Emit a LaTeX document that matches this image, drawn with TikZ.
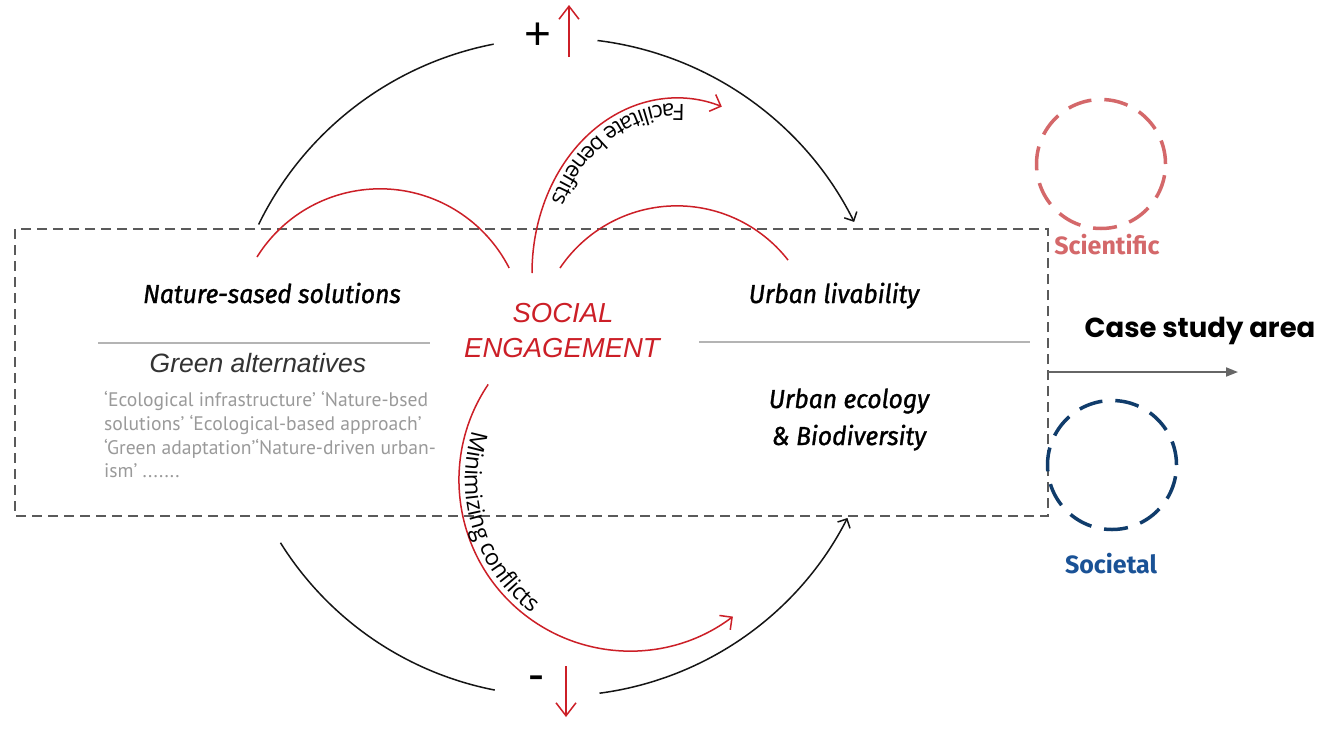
\documentclass[tikz,border=0pt]{standalone}
\usepackage{fontspec}
\usetikzlibrary{arrows.meta,decorations.text}
\setmainfont{Liberation Sans}
\newfontfamily\firac[FakeStretch=0.95,FakeBold=1.2]{Fira Sans}
\newfontfamily\firar{Fira Sans}
\newfontfamily\opens{Open Sans}
\newfontfamily\ptsans{PT Sans}
\newfontfamily\popp{Poppins}
\newfontfamily\libs{Liberation Sans}
\definecolor{lred}{HTML}{CC1F27}
\definecolor{sciRed}{HTML}{D4686A}
\definecolor{socBlue}{HTML}{103C6B}
\definecolor{socText}{HTML}{1A5296}
\definecolor{boxGray}{HTML}{5A5A5A}
\definecolor{divGray}{HTML}{B4B4B4}
\definecolor{paraGray}{HTML}{9A9A9A}
\definecolor{arcBlack}{HTML}{151515}
\definecolor{gaText}{HTML}{333333}
\tikzset{
  blackarc/.style={draw=arcBlack, line width=1.5pt},
  redarc/.style={draw=lred, line width=1.5pt},
  barbtip/.style={-{Straight Barb[length=7pt,width=14pt]}},
  redtip/.style={-{Straight Barb[length=9pt,width=18pt]}},
  vtip/.style={-{Straight Barb[length=13pt,width=20pt]}},
  casebox/.style={draw=boxGray, line width=1.8pt, dash pattern=on 10pt off 6pt},
  divider/.style={draw=divGray, line width=1.8pt},
  mainlabel/.style={font=\firac\itshape\fontsize{26}{26}\selectfont, text=black, inner sep=0pt, anchor=base},
  paraline/.style={font=\ptsans\fontsize{19.6}{19.6}\selectfont, text=paraGray, inner sep=0pt, anchor=base west},
  ringlabel/.style={font=\firar\bfseries\fontsize{25}{25}\selectfont, inner sep=0pt, anchor=base},
  ring/.style={circle, inner sep=0pt, minimum size=129pt, line width=3.5pt, dash pattern=on 24pt off 13pt},
  social/.style={font=\libs\itshape\fontsize{27.5}{27.5}\selectfont, text=lred, inner sep=0pt, anchor=base},
}
\begin{document}
\begin{tikzpicture}[x=1pt,y=1pt]
\useasboundingbox[fill=white] (0,0) rectangle (1325,-731);

% case study area box
\draw[casebox] (15,-229) rectangle (1048,-516);

% coordinates
\coordinate (tlA) at (258.6,-224.5);
\coordinate (trA) at (597.5,-40.5);
\coordinate (blA) at (280.5,-542.8);
\coordinate (brA) at (599.5,-693.2);
\coordinate (rlA) at (257,-257);
\coordinate (rrA) at (560,-268);
\coordinate (fbA) at (532,-273);
\coordinate (fbB) at (721.8,-106.6);
\coordinate (mcA) at (488.2,-384.4);
\coordinate (upA) at (569,-57);
\coordinate (upB) at (569,-5);
\coordinate (dnA) at (566,-666);
\coordinate (dnB) at (566,-717);
\coordinate (caseA) at (1048,-372);
\coordinate (caseB) at (1238,-372);
\coordinate (divLA) at (98,-343);
\coordinate (divLB) at (430,-343);
\coordinate (divRA) at (699,-342);
\coordinate (divRB) at (1030,-342);

% black outer loop
\draw[blackarc] (tlA) arc[start angle=154, end angle=101, radius=332pt];
\draw[blackarc, barbtip] (trA) arc[start angle=83, end angle=26.5, radius=332pt];
\draw[blackarc] (blA) arc[start angle=212, end angle=259, radius=326pt];
\draw[blackarc, barbtip] (brA) arc[start angle=277.5, end angle=333, radius=326pt];

% red arcs
\draw[redarc] (rlA) arc[start angle=148, end angle=27, radius=145pt];
\draw[redarc] (rrA) arc[start angle=146, end angle=38, radius=141pt];
\draw[redarc, redtip] (fbA) arc[start angle=180, end angle=72, x radius=145pt, y radius=175pt];
\draw[redarc, redtip] (mcA) arc[start angle=146, end angle=307, radius=171pt];

% curved labels
\path[decorate, decoration={text along path,
  text={|\opens\fontsize{22.5}{22.5}\selectfont|Facilitate benefits},
  text align={left indent=38pt}, raise=6pt}]
  (fbB) arc[start angle=72, end angle=180, x radius=145pt, y radius=175pt];
\path[decorate, decoration={text along path,
  text={|\opens\fontsize{23}{23}\selectfont|Minimizing conflicts},
  text align={left indent=50pt}, raise=6pt}]
  (mcA) arc[start angle=146, end angle=307, radius=171pt];

% plus / minus arrows
\draw[redarc, vtip] (upA) -- (upB);
\draw[redarc, vtip] (dnA) -- (dnB);
\node[font=\libs\fontsize{46}{46}\selectfont, inner sep=0pt] (plus) at (538,-36) {+};
\node[font=\libs\fontsize{48}{48}\selectfont, inner sep=0pt] (minus) at (536,-683) {-};

% dividers
\draw[divider] (divLA) -- (divLB);
\draw[divider] (divRA) -- (divRB);

% texts
\node[mainlabel] (nbs) at (272,-303) {Nature-sased solutions};
\node[mainlabel] (ul) at (834,-303) {Urban livability};
\node[mainlabel] (ue1) at (849,-408) {Urban ecology};
\node[mainlabel] (ue2) at (849,-445) {\& Biodiversity};
\node[social] (soc1) at (563,-322) {SOCIAL};
\node[social] (soc2) at (562,-357) {ENGAGEMENT};
\node[font=\libs\itshape\fontsize{26.5}{26.5}\selectfont, text=gaText, inner sep=0pt, anchor=base] (ga) at (258,-372) {Green alternatives};
\node[paraline] (p1) at (104,-406) {‘Ecological infrastructure’ ‘Nature-bsed};
\node[paraline] (p2) at (104,-430) {solutions’ ‘Ecological-based approach’};
\node[paraline] (p3) at (104,-454) {‘Green adaptation’‘Nature-driven urban-};
\node[paraline] (p4) at (104,-477) {ism’ .......};

% right side
\node[font=\popp\bfseries\fontsize{27.5}{27.5}\selectfont, inner sep=0pt, anchor=base] (case) at (1200,-337) {Case study area};
\draw[draw=black!60, line width=1.8pt, -{Triangle[length=12pt,width=9pt]}] (caseA) -- (caseB);
\node[ring, draw=sciRed] (sci) at (1101,-164) {};
\node[ring, draw=socBlue] (socy) at (1112,-465) {};
\node[ringlabel, text=sciRed] (scil) at (1107,-254) {Scientific};
\node[ringlabel, text=socText] (socl) at (1111,-573) {Societal};
\end{tikzpicture}
\end{document}
